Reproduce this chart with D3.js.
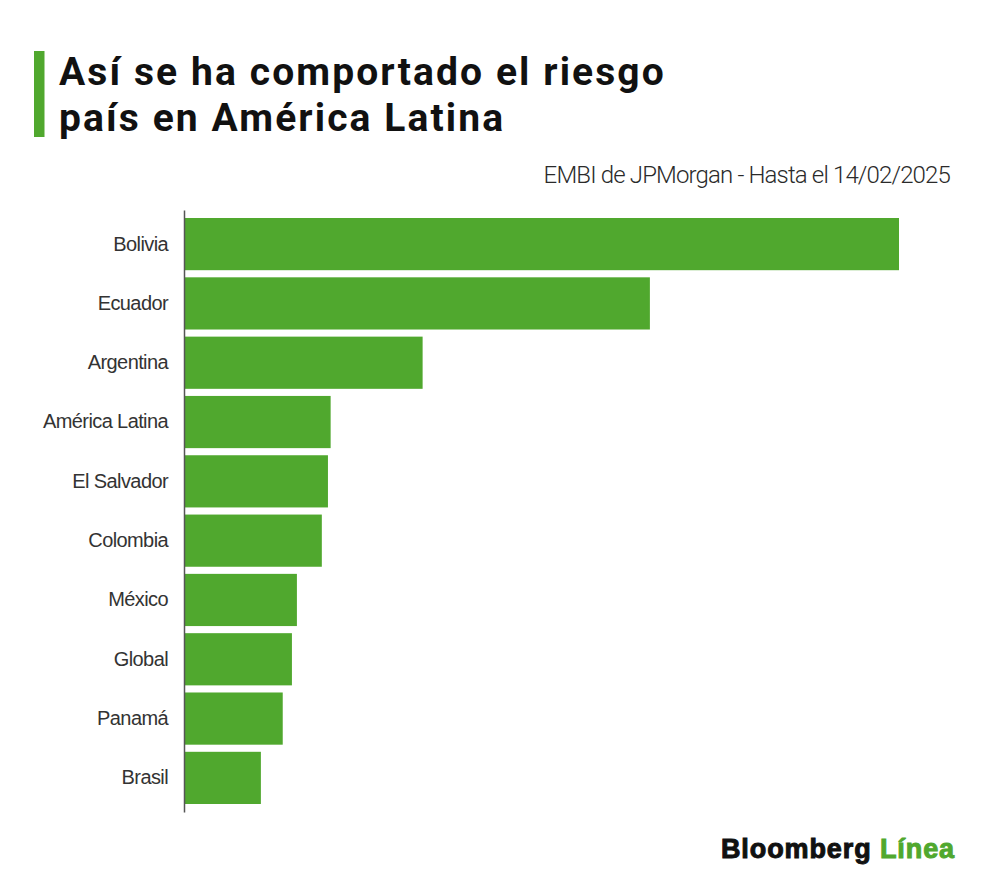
<!DOCTYPE html>
<html>
<head>
<meta charset="utf-8">
<script src="https://cdn.jsdelivr.net/npm/d3@7"></script>
<style>
  body { margin: 0; background: #fff; }
</style>
</head>
<body>
<div id="chart"></div>
<script>
/*---------- DATA ----------*/
// EMBI spread (basis points)
let countries = [
  "Bolivia",
  "Ecuador",
  "Argentina",
  "América Latina",
  "El Salvador",
  "Colombia",
  "México",
  "Global",
  "Panamá",
  "Brasil",
];
let spreads = [1863, 1213, 620, 380, 373, 357, 292, 279, 255, 198];

let titleLines = ["Así se ha comportado el riesgo", "país en América Latina"];
let subtitle = "EMBI de JPMorgan - Hasta el 14/02/2025";

/*---------- SETUP ----------*/
let width = 1000;
let height = 895;
let green = "#50a82e";

let svg = d3
  .select("#chart")
  .append("svg")
  .attr("width", width)
  .attr("height", height)
  .attr("viewBox", `0 0 ${width} ${height}`);

svg.append("rect").attr("width", width).attr("height", height).attr("fill", "#fff");

// Title with green accent bar
svg
  .append("rect")
  .attr("x", 34)
  .attr("y", 51)
  .attr("width", 10.5)
  .attr("height", 86)
  .attr("fill", green);

let title = svg
  .append("text")
  .attr("font-family", "Roboto, 'Noto Sans', sans-serif")
  .attr("font-weight", 700)
  .attr("font-size", "39px")
  .attr("letter-spacing", "2.1px")
  .attr("fill", "#111");

title
  .selectAll("tspan")
  .data(titleLines)
  .join("tspan")
  .attr("x", 59)
  .attr("y", (d, i) => 84.5 + i * 46)
  .text((d) => d);

// Subtitle
svg
  .append("text")
  .attr("x", 950)
  .attr("y", 183)
  .attr("text-anchor", "end")
  .attr("font-family", "Roboto, sans-serif")
  .attr("font-weight", 300)
  .attr("font-size", "24px")
  .attr("letter-spacing", "-0.85px")
  .attr("fill", "#2a2a2a")
  .text(subtitle);

/*---------- SCALES ----------*/
let x = d3.scaleLinear().domain([0, d3.max(spreads)]).range([185, 899]);

let y = d3
  .scaleBand()
  .domain(countries)
  .range([210, 812])
  .paddingInner(0.12)
  .paddingOuter(0.135);

/*---------- BARS ----------*/
svg
  .selectAll("rect.bar")
  .data(countries)
  .join("rect")
  .attr("class", "bar")
  .attr("x", x(0))
  .attr("y", (d) => y(d))
  .attr("width", (d, i) => x(spreads[i]) - x(0))
  .attr("height", y.bandwidth())
  .attr("fill", green);

/*---------- AXIS ----------*/
let axis = svg
  .append("g")
  .attr("transform", "translate(184,0)")
  .call(d3.axisLeft(y).tickSize(0).tickPadding(16));

axis.select(".domain").attr("stroke", "#555").attr("stroke-width", 1.5);

axis
  .selectAll("text")
  .attr("font-family", "'Liberation Sans', Arial, sans-serif")
  .attr("font-size", "20px")
  .attr("letter-spacing", "-0.6px")
  .attr("fill", "#333");

/*---------- LOGO ----------*/
let logo = svg
  .append("text")
  .attr("x", 955)
  .attr("y", 858)
  .attr("text-anchor", "end")
  .attr("font-family", "'Liberation Sans', Arial, sans-serif")
  .attr("font-weight", 700)
  .attr("font-size", "27px")
  .attr("letter-spacing", "0.9px")
  .attr("stroke-width", 1);

logo.append("tspan").attr("fill", "#111").attr("stroke", "#111").text("Bloomberg ");
logo.append("tspan").attr("fill", green).attr("stroke", green).text("Línea");
</script>
</body>
</html>
